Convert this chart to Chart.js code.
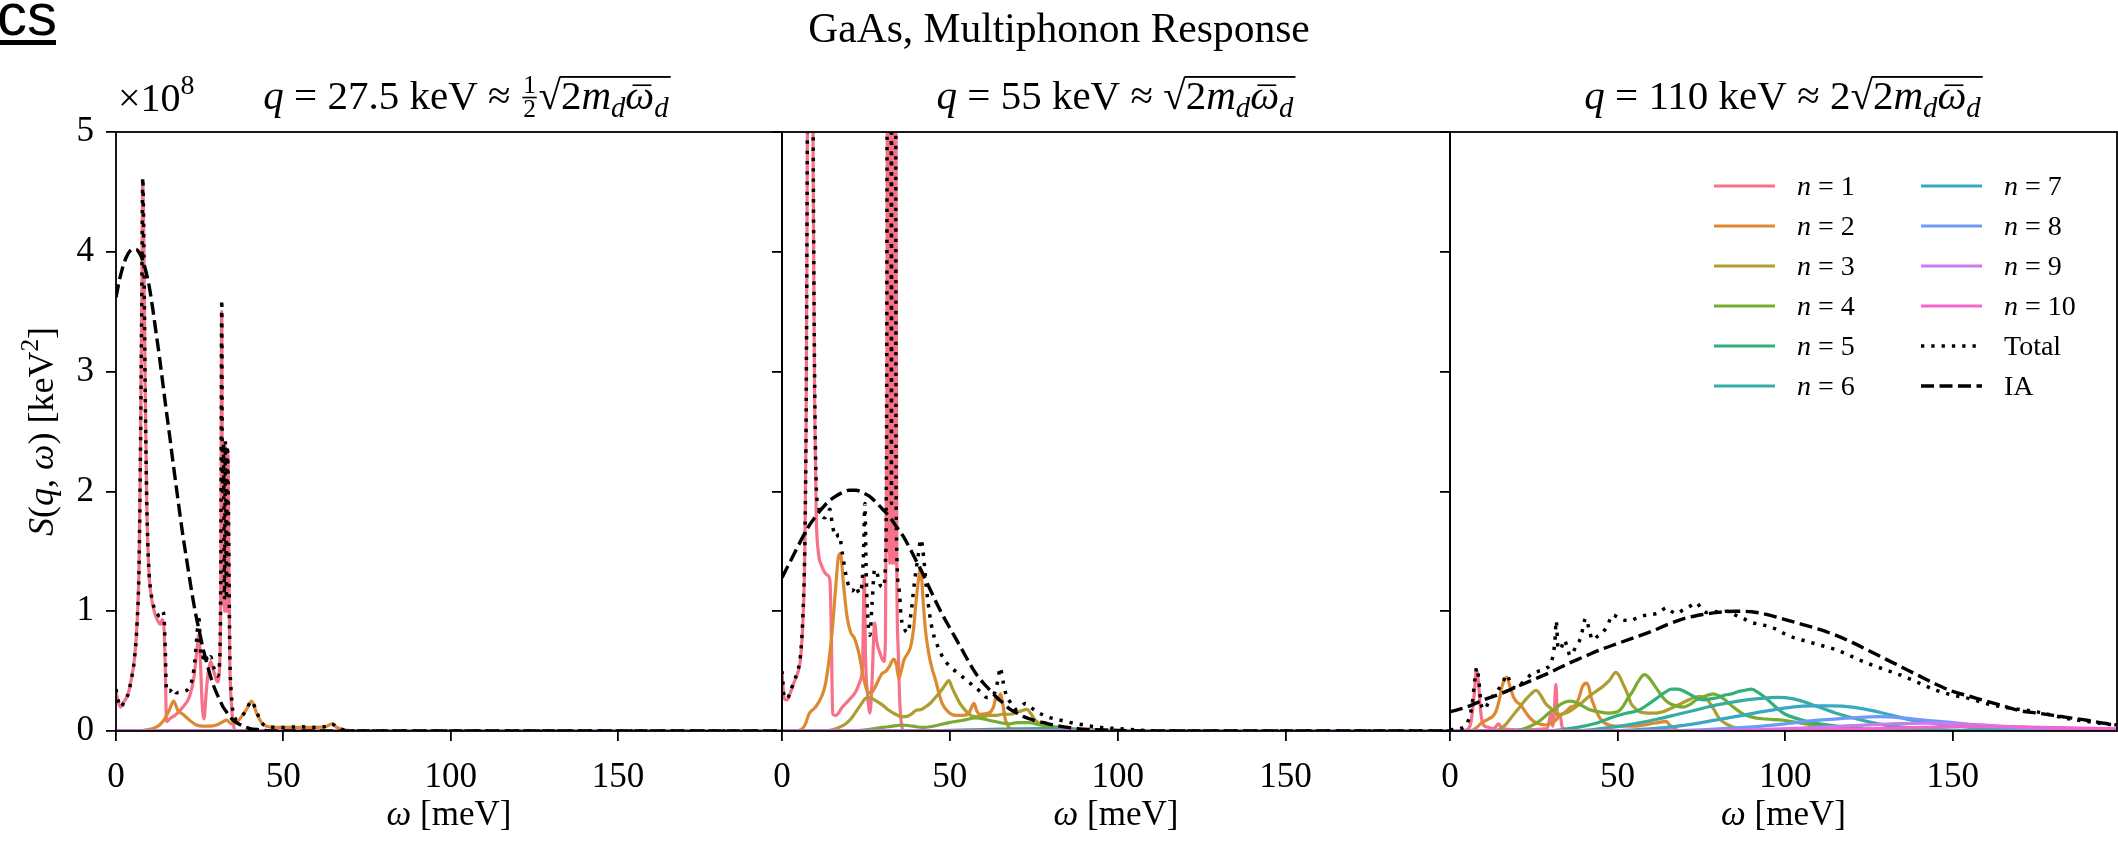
<!DOCTYPE html>
<html>
<head>
<meta charset="utf-8">
<title>GaAs, Multiphonon Response</title>
<script src="https://cdn.jsdelivr.net/npm/chart.js@4.4.1/dist/chart.umd.min.js"></script>
<style>
  html, body { margin: 0; padding: 0; background: #fff; }
  #wrap { position: relative; width: 2118px; height: 841px; overflow: hidden; }
  canvas { position: absolute; left: 0; top: 0; }
</style>
</head>
<body>
<div id="wrap">
  <canvas id="c1" width="2118" height="841"></canvas>
  <canvas id="c2" width="2118" height="841"></canvas>
  <canvas id="c3" width="2118" height="841"></canvas>
</div>
<script>
// ---- axis ticks / labels
const X_TICKS = [0, 50, 100, 150];
const Y_TICKS = [0, 1, 2, 3, 4, 5];
const X_MAX = 199;
const COLORS = ['#f77189', '#dc8932', '#ae9d31', '#77ab31', '#33b07a', '#36ada4', '#38a9c5', '#6e9bf4', '#cc7af4', '#f565cc'];
const N_VALUES = ['1', '2', '3', '4', '5', '6', '7', '8', '9', '10'];

// ---- data: [omega (meV), S (1e8 keV^2)]
const ZERO = [[0, 0], [199, 0]];

// q = 27.5 keV
const P1_N1 = [[0,0.33],[0.7,0.24],[1.4,0.2],[2.5,0.25],[3.5,0.3],[4.5,0.42],[5.5,0.6],[6.3,0.9],[6.9,1.4],[7.3,2.3],
  [7.7,3.6],[8.0,4.58],[8.3,4.1],[8.7,2.9],[9.2,1.9],[9.8,1.35],[10.5,1.13],[11.5,0.99],[12.5,0.92],[13.2,0.89],
  [13.8,0.93],[14.3,0.88],[14.7,0.55],[15.1,0.08],[16,0.1],[18,0.14],[20,0.2],[22,0.29],[23.3,0.45],[24.2,0.68],
  [24.7,0.8],[25.2,0.6],[25.7,0.25],[26.3,0.1],[26.9,0.3],[27.5,0.48],[28.3,0.58],[29.2,0.5],[30.3,0.41],[30.9,0.5],
  [31.3,1.2],[31.6,3.5],[31.8,1.9],[32.0,2.35],[32.15,1.05],[32.3,2.36],[32.45,1.0],[32.6,2.38],[32.75,1.05],[32.9,2.36],
  [33.05,1.0],[33.2,2.34],[33.35,1.1],[33.5,2.3],[33.7,1.5],[34.0,0.6],[34.5,0.22],[35.0,0.07],[35.6,0],[199,0]];
const P1_N2 = [[0,0],[7,0],[9,0.01],[11,0.02],[13,0.05],[14.5,0.1],[16,0.18],[17.2,0.25],[18.5,0.17],[20,0.14],
  [22,0.09],[24,0.05],[26,0.04],[28,0.04],[30,0.05],[31.5,0.07],[33,0.09],[34.5,0.06],[36,0.07],[37.5,0.12],
  [39,0.18],[40.5,0.25],[42,0.15],[43.5,0.07],[45,0.04],[48,0.03],[55,0.03],[60,0.03],[63,0.04],[64.5,0.06],
  [66,0.03],[68,0.01],[72,0],[199,0]];
const P1_TOT = [[0,0.35],[0.7,0.25],[1.4,0.2],[2.5,0.25],[3.5,0.3],[4.5,0.42],[5.5,0.6],[6.3,0.9],[6.9,1.4],[7.3,2.3],
  [7.7,3.6],[8.0,4.62],[8.3,4.1],[8.7,2.9],[9.2,1.9],[9.8,1.36],[10.5,1.15],[11.5,1.02],[12.5,0.97],[13.2,0.96],
  [13.8,1.0],[14.3,0.97],[14.7,0.7],[15.1,0.33],[16,0.33],[17,0.36],[18,0.32],[20,0.33],[22,0.37],[23.3,0.52],
  [24.2,0.8],[24.7,0.97],[25.2,0.72],[25.7,0.6],[26.5,0.65],[27.5,0.58],[28.3,0.62],[29.2,0.53],[30.3,0.46],[30.9,0.55],
  [31.3,1.3],[31.6,3.6],[31.8,2.0],[32.1,2.4],[32.4,1.1],[32.7,2.42],[33.0,1.1],[33.3,2.38],[33.7,1.55],[34.0,0.66],
  [34.5,0.3],[35.0,0.15],[36,0.1],[37.5,0.12],[39,0.18],[40.5,0.25],[42,0.16],[43.5,0.07],[45,0.04],[50,0.03],
  [55,0.035],[60,0.03],[63,0.04],[64.5,0.06],[66,0.03],[68,0.01],[72,0],[199,0]];
const P1_IA = [[0,3.62],[1,3.76],[2,3.87],[3,3.95],[4,4.0],[5,4.02],[6,4.02],[7,3.99],[8,3.93],[9,3.83],[10,3.7],
  [11,3.52],[12,3.32],[13,3.12],[14,2.9],[15,2.68],[16,2.47],[17,2.25],[18,2.04],[19,1.83],[20,1.63],[21,1.45],
  [22,1.27],[23,1.1],[24,0.95],[25,0.82],[26,0.69],[27,0.58],[28,0.48],[29,0.39],[30,0.32],[31,0.26],[32,0.2],
  [33,0.16],[34,0.12],[35,0.09],[36,0.07],[38,0.04],[40,0.02],[43,0.01],[47,0],[199,0]];

// q = 55 keV
const P2_N1 = [[0,0.48],[0.7,0.27],[1.5,0.26],[2.5,0.32],[3.5,0.4],[4.5,0.47],[5.5,0.6],[6.2,0.9],[6.8,1.5],[7.2,2.6],
  [7.5,4.5],[7.9,7.5],[8.4,9],[8.9,7.5],[9.3,4.6],[9.7,2.8],[10.2,1.8],[10.8,1.5],[11.8,1.38],[12.8,1.32],
  [13.6,1.3],[14.3,1.25],[14.7,0.8],[15.1,0.14],[16,0.13],[18,0.2],[20,0.26],[22,0.33],[23.3,0.42],[24,0.55],
  [24.5,1.3],[24.9,0.6],[25.5,0.3],[26.2,0.15],[26.8,0.4],[27.6,0.9],[28.2,0.75],[29.2,0.65],[30.3,0.58],[30.8,0.75],
  [31.2,2.5],[31.5,7],[31.7,1.5],[31.9,8],[32.1,1.4],[32.3,8],[32.5,1.45],[32.7,8],[32.9,1.4],[33.1,8],
  [33.3,1.45],[33.5,8],[33.7,1.4],[33.9,6],[34.2,1.4],[34.6,0.7],[35.0,0.3],[35.5,0.08],[36.2,0],[199,0]];
const P2_N2 = [[0,0],[4,0],[6,0.02],[7,0.06],[8,0.14],[10,0.2],[12,0.3],[13,0.4],[14,0.59],[15,0.85],
  [16,1.2],[16.8,1.45],[17.4,1.48],[18.4,1.2],[19.4,0.95],[20.5,0.82],[21.5,0.78],[22.9,0.65],[24.4,0.43],[25.8,0.32],
  [27,0.33],[27.8,0.37],[29,0.44],[29.8,0.48],[31,0.5],[32,0.54],[33.3,0.6],[34.1,0.55],[34.8,0.44],[35.5,0.5],
  [36.3,0.59],[37.5,0.65],[38.3,0.7],[39.2,0.85],[39.8,1.04],[40.6,1.25],[41.3,1.36],[42,1.1],[42.7,0.85],[43.7,0.65],
  [44.7,0.52],[45.7,0.43],[46.7,0.32],[47.7,0.23],[49.5,0.16],[51.7,0.13],[54,0.13],[55.7,0.15],[56.5,0.2],[57.2,0.23],
  [58,0.17],[59,0.14],[61.6,0.15],[63,0.2],[63.8,0.28],[64.4,0.26],[65.1,0.31],[65.8,0.22],[66.5,0.1],[67.6,0.03],
  [69,0.01],[71,0],[199,0]];
const P2_N3 = [[0,0],[13,0],[15,0.01],[17,0.03],[19,0.06],[20.5,0.1],[22,0.16],[23.5,0.22],[24.8,0.27],[26.3,0.28],
  [27.5,0.26],[29.8,0.22],[31.5,0.18],[33.8,0.14],[35.5,0.12],[36.8,0.12],[38.5,0.14],[39.8,0.17],[41.5,0.18],[42.7,0.2],
  [44.5,0.24],[45.7,0.28],[47.2,0.33],[48.5,0.38],[49.7,0.42],[50.7,0.36],[51.7,0.3],[53,0.23],[54.7,0.17],[56.2,0.13],
  [57.7,0.12],[60,0.12],[61.6,0.13],[64,0.13],[65.6,0.14],[68,0.14],[69.6,0.15],[71.5,0.17],[73,0.18],[74,0.15],
  [75.5,0.09],[77.5,0.05],[79.5,0.03],[82,0.01],[86,0],[199,0]];
const P2_N4 = [[0,0],[20,0],[25,0.01],[29.8,0.03],[33,0.04],[35.8,0.05],[39,0.04],[41.8,0.03],[45,0.04],[49.7,0.07],
  [54,0.09],[57.7,0.11],[61.6,0.09],[65,0.07],[67.6,0.06],[70,0.07],[73.6,0.07],[77,0.05],[79.5,0.04],[83,0.03],
  [85.5,0.02],[90,0.01],[96,0],[199,0]];
const P2_N5 = [[0,0],[40,0],[50,0.005],[60,0.012],[70,0.018],[78,0.02],[86,0.015],[95,0.008],[105,0.003],[115,0],[199,0]];
const P2_N6 = [[0,0],[50,0],[65,0.004],[80,0.008],[95,0.006],[110,0.002],[125,0],[199,0]];
const P2_TOT = [[0,0.5],[0.7,0.28],[1.5,0.27],[2.5,0.33],[3.5,0.41],[4.5,0.49],[5.5,0.63],[6.2,0.95],[6.8,1.56],[7.2,2.66],
  [7.5,4.6],[7.9,7.6],[8.4,9.1],[8.9,7.6],[9.3,4.8],[9.7,3.0],[10.2,2.05],[10.8,1.88],[11.8,1.8],[12.8,1.78],
  [13.6,1.82],[14.3,1.85],[15,1.72],[16,1.62],[17,1.64],[18,1.48],[19,1.31],[20,1.2],[21,1.17],[22,1.21],
  [23,1.15],[23.8,1.22],[24.3,1.5],[24.7,1.9],[25.1,1.3],[25.6,0.92],[26.2,0.8],[26.8,1.05],[27.6,1.35],[28.3,1.32],
  [29.2,1.22],[30.2,1.2],[30.8,1.4],[31.2,3],[31.5,9],[32.5,9],[32.6,1.9],[32.7,9],[33.8,9],[34.0,1.9],
  [34.8,1.2],[35.5,0.95],[36.5,0.85],[37.5,0.82],[38.5,1.0],[39.5,1.25],[40.5,1.45],[41.4,1.6],[42.2,1.45],[43,1.2],
  [44,0.97],[45,0.82],[46.5,0.7],[48,0.61],[50,0.54],[53,0.47],[56,0.4],[59,0.33],[61,0.28],[63,0.3],
  [64.3,0.42],[65,0.53],[65.8,0.42],[66.8,0.3],[68,0.24],[69.5,0.18],[71,0.2],[72.5,0.23],[74,0.2],[76,0.16],
  [78,0.13],[80,0.11],[83,0.09],[86,0.07],[90,0.05],[95,0.03],[100,0.02],[105,0.01],[112,0],[199,0]];
const P2_IA = [[0,1.28],[2,1.39],[4,1.5],[6,1.61],[8,1.71],[10,1.79],[12,1.86],[14,1.92],[16,1.96],[18,1.99],
  [20,2.01],[22,2.01],[24,1.99],[26,1.96],[28,1.91],[30,1.85],[32,1.79],[34,1.71],[36,1.63],[38,1.53],
  [40,1.42],[42,1.31],[44,1.19],[46,1.07],[48,0.96],[50,0.86],[52,0.76],[54,0.66],[56,0.56],[58,0.47],
  [60,0.4],[62,0.34],[64,0.28],[66,0.23],[68,0.18],[70,0.15],[72,0.12],[74,0.1],[76,0.08],[78,0.07],
  [80,0.055],[84,0.035],[88,0.02],[92,0.012],[98,0.005],[105,0.002],[115,0],[199,0]];

// q = 110 keV
const P3_N1 = [[0,0],[5,0.01],[6.3,0.08],[7.2,0.3],[7.9,0.51],[8.5,0.4],[9.2,0.15],[10,0.05],[11.5,0.03],[13,0.02],
  [14.5,0.06],[15.5,0.02],[20,0.01],[29,0.02],[30.2,0.15],[30.6,0.04],[31.1,0.15],[31.6,0.39],[32.1,0.12],[32.9,0.12],
  [33.5,0.03],[35,0.01],[37,0],[199,0]];
const P3_N2 = [[0,0],[6,0],[8,0.03],[9.5,0.07],[11.5,0.1],[13.5,0.15],[14.7,0.26],[15.5,0.37],[16.3,0.43],[17,0.45],
  [17.8,0.38],[19,0.28],[20,0.24],[21,0.22],[22.5,0.16],[23.5,0.12],[25,0.08],[26.5,0.06],[28.5,0.05],[30,0.06],
  [31.5,0.09],[32.5,0.12],[34.5,0.16],[36,0.2],[37.5,0.22],[38.5,0.28],[39.5,0.37],[40.7,0.4],[41.5,0.36],[42,0.29],
  [43,0.21],[43.5,0.17],[45.5,0.08],[47.5,0.05],[49.5,0.04],[55,0.04],[59.5,0.06],[62,0.07],[64.5,0.08],[65.5,0.05],
  [67.5,0.01],[69,0],[199,0]];
const P3_N3 = [[0,0],[12,0],[14.5,0.01],[16.5,0.05],[18.5,0.12],[20.5,0.19],[22.5,0.26],[24.2,0.31],[25.7,0.34],[27,0.3],
  [28.5,0.23],[30,0.19],[31.5,0.15],[33,0.14],[34.5,0.15],[36,0.17],[37.5,0.2],[39.5,0.24],[41.5,0.29],[43.5,0.33],
  [45.5,0.37],[47.5,0.42],[49.5,0.49],[50.5,0.46],[51.5,0.4],[52.8,0.32],[54,0.23],[55.2,0.19],[56.5,0.16],[59,0.15],
  [61.5,0.15],[63.5,0.16],[66,0.19],[69,0.23],[72,0.27],[74.5,0.29],[76.5,0.27],[78.5,0.19],[80.5,0.1],[83,0.05],
  [86,0.02],[90,0.01],[95,0],[199,0]];
const P3_N4 = [[0,0],[18,0],[21,0.01],[24,0.04],[27,0.09],[29.5,0.15],[31.5,0.19],[33.5,0.23],[35.5,0.25],[37.5,0.24],
  [39.5,0.21],[41.5,0.18],[44.5,0.16],[47.5,0.15],[50,0.16],[51.5,0.2],[53,0.27],[54.5,0.33],[56.3,0.42],[58,0.47],
  [59.5,0.44],[61.5,0.36],[63.5,0.28],[65.5,0.23],[67.5,0.21],[69.5,0.2],[71.5,0.22],[73.5,0.26],[76,0.29],[78.5,0.31],
  [80.5,0.29],[82.5,0.25],[84.5,0.2],[87,0.15],[89.5,0.12],[94,0.1],[99.5,0.09],[104,0.07],[110,0.04],[115,0.02],
  [120,0.01],[128,0],[199,0]];
const P3_N5 = [[0,0],[28,0],[33,0.01],[38,0.03],[43,0.06],[47,0.1],[50,0.13],[53,0.15],[56,0.17],[59,0.22],
  [62,0.28],[64,0.32],[66,0.35],[68,0.35],[70,0.33],[72,0.3],[74,0.27],[76,0.26],[78,0.27],[80,0.28],
  [82,0.3],[84,0.31],[86,0.33],[88,0.34],[90,0.35],[92,0.32],[94,0.28],[96,0.23],[98,0.18],[100,0.14],
  [104,0.1],[108,0.07],[113,0.05],[118,0.03],[125,0.015],[132,0.005],[140,0],[199,0]];
const P3_N6 = [[0,0],[35,0],[42,0.01],[48,0.03],[55,0.06],[62,0.1],[68,0.14],[74,0.18],[80,0.22],[86,0.25],
  [92,0.27],[98,0.28],[102,0.27],[106,0.24],[110,0.2],[115,0.15],[120,0.11],[126,0.07],[132,0.04],[140,0.02],
  [150,0.005],[160,0],[199,0]];
const P3_N7 = [[0,0],[45,0],[55,0.01],[65,0.03],[75,0.07],[85,0.12],[95,0.17],[102,0.2],[108,0.21],[114,0.21],
  [120,0.2],[126,0.17],[132,0.13],[138,0.09],[145,0.06],[152,0.04],[160,0.02],[170,0.01],[180,0],[199,0]];
const P3_N8 = [[0,0],[60,0],[75,0.01],[88,0.03],[100,0.06],[110,0.09],[120,0.11],[128,0.12],[135,0.11],[142,0.09],
  [150,0.07],[160,0.04],[170,0.02],[180,0.01],[190,0.005],[199,0]];
const P3_N9 = [[0,0],[75,0],[90,0.01],[105,0.025],[120,0.045],[132,0.06],[142,0.065],[152,0.06],[162,0.045],[172,0.03],
  [182,0.02],[192,0.01],[199,0.007]];
const P3_N10 = [[0,0],[85,0],[100,0.005],[115,0.012],[130,0.022],[145,0.032],[158,0.036],[170,0.034],[182,0.028],[192,0.022],
  [199,0.018]];
const P3_TOT = [[0,0.01],[3,0.02],[5,0.06],[6.5,0.2],[7.5,0.45],[8,0.53],[8.6,0.42],[9.3,0.22],[10.3,0.18],[11.5,0.24],
  [13,0.3],[14.5,0.35],[16,0.42],[16.8,0.47],[17.5,0.44],[18.5,0.37],[20,0.36],[21.5,0.4],[23,0.44],[24.5,0.48],
  [26.5,0.5],[28.5,0.52],[30.5,0.6],[31.3,0.75],[31.7,0.92],[32.2,0.7],[33,0.68],[34,0.76],[35,0.7],[35.8,0.63],
  [37.5,0.7],[39,0.78],[40.5,0.94],[41.5,0.85],[42.5,0.76],[44,0.79],[45.5,0.82],[47,0.88],[48.5,0.97],[50,0.95],
  [51.5,0.93],[53.5,0.92],[55.5,0.94],[57.5,0.96],[59.5,0.97],[61.5,0.98],[63,1.0],[64.5,1.03],[66,1.0],[67.5,0.98],
  [69.5,1.01],[71.5,1.04],[73.5,1.07],[75,1.02],[76.5,0.99],[78.5,1.0],[80.5,0.99],[82.5,1.0],[85,0.97],[87.5,0.94],
  [89.5,0.91],[92.5,0.89],[95.5,0.87],[98,0.84],[100.5,0.8],[105,0.76],[110,0.72],[115,0.68],[120,0.62],[125,0.56],
  [130,0.51],[135,0.46],[140,0.4],[145,0.34],[150,0.3],[155,0.27],[160,0.23],[165,0.2],[170,0.18],[175,0.16],
  [180,0.13],[185,0.1],[190,0.08],[195,0.06],[199,0.05]];
const P3_IA = [[0,0.16],[5,0.2],[10,0.26],[15,0.31],[20,0.37],[25,0.43],[30,0.49],[35,0.56],[40,0.62],[45,0.68],
  [50,0.73],[55,0.78],[60,0.83],[65,0.89],[70,0.94],[75,0.97],[80,0.99],[85,1.0],[90,0.995],[95,0.97],
  [100,0.93],[105,0.89],[110,0.85],[115,0.8],[120,0.74],[125,0.67],[130,0.6],[135,0.53],[140,0.46],[145,0.39],
  [150,0.33],[155,0.29],[160,0.25],[165,0.21],[170,0.17],[175,0.15],[180,0.13],[185,0.11],[190,0.09],[195,0.065],
  [199,0.05]];

// ---- texts
const SERIF = '"Liberation Serif", "Times New Roman", serif';
const ROOT = [{t: '2'}, {t: 'm', i: 1}, {t: 'd', i: 1, sub: 1}, {t: 'ω', i: 1, bar: 1}, {t: 'd', i: 1, sub: 1}];
const TITLE_1 = [{t: 'q', i: 1}, {t: ' = 27.5 keV ≈ '}, {frac: ['1', '2']}, {sqrt: ROOT}];
const TITLE_2 = [{t: 'q', i: 1}, {t: ' = 55 keV ≈ '}, {sqrt: ROOT}];
const TITLE_3 = [{t: 'q', i: 1}, {t: ' = 110 keV ≈ 2'}, {sqrt: ROOT}];
const X_LABEL = [{t: 'ω', i: 1}, {t: ' [meV]'}];
const Y_LABEL = [{t: 'S', i: 1}, {t: '('}, {t: 'q', i: 1}, {t: ', '}, {t: 'ω', i: 1}, {t: ') [keV'}, {t: '2', sup: 1}, {t: ']'}];
const OFFSET = [{t: '×10'}, {t: '8', sup: 1}];

function tokFont(tok, size) {
  const s = (tok.sub || tok.sup) ? size * 0.7 : size;
  return (tok.i ? 'italic ' : '') + s + 'px ' + SERIF;
}
function richWidth(ctx, toks, size) {
  let w = 0;
  for (const tok of toks) {
    if (tok.frac) {
      ctx.font = (size * 0.62) + 'px ' + SERIF;
      w += Math.max(ctx.measureText(tok.frac[0]).width, ctx.measureText(tok.frac[1]).width) + size * 0.12;
    } else if (tok.sqrt) {
      ctx.font = size + 'px ' + SERIF;
      w += ctx.measureText('√').width + richWidth(ctx, tok.sqrt, size) + size * 0.05;
    } else {
      ctx.font = tokFont(tok, size);
      w += ctx.measureText(tok.t).width;
    }
  }
  return w;
}
function richDraw(ctx, toks, x, y, size) {
  for (const tok of toks) {
    if (tok.frac) {
      const fs = size * 0.62;
      ctx.font = fs + 'px ' + SERIF;
      const fw = Math.max(ctx.measureText(tok.frac[0]).width, ctx.measureText(tok.frac[1]).width) + size * 0.12;
      ctx.textAlign = 'center';
      ctx.fillText(tok.frac[0], x + fw / 2, y - size * 0.4);
      ctx.fillText(tok.frac[1], x + fw / 2, y + size * 0.2);
      ctx.textAlign = 'left';
      ctx.fillRect(x + size * 0.04, y - size * 0.3, fw - size * 0.08, Math.max(1.2, size * 0.04));
      x += fw;
    } else if (tok.sqrt) {
      ctx.font = size + 'px ' + SERIF;
      const m = ctx.measureText('√');
      ctx.fillText('√', x, y);
      const inner = richWidth(ctx, tok.sqrt, size) + size * 0.05;
      ctx.fillRect(x + m.width - 1, y - m.actualBoundingBoxAscent, inner + 1, Math.max(1.3, size * 0.045));
      x = richDraw(ctx, tok.sqrt, x + m.width, y, size) + size * 0.05;
    } else {
      ctx.font = tokFont(tok, size);
      const dy = tok.sub ? size * 0.2 : tok.sup ? -size * 0.42 : 0;
      const w = ctx.measureText(tok.t).width;
      ctx.fillText(tok.t, x, y + dy);
      if (tok.bar) ctx.fillRect(x + w * 0.25, y - size * 0.6, w * 0.65, Math.max(1.2, size * 0.04));
      x += w;
    }
  }
  return x;
}
function richText(ctx, toks, x, y, size, align) {
  ctx.textAlign = 'left';
  ctx.textBaseline = 'alphabetic';
  ctx.fillStyle = '#000';
  const w = richWidth(ctx, toks, size);
  const x0 = align === 'center' ? x - w / 2 : align === 'right' ? x - w : x;
  richDraw(ctx, toks, x0, y, size);
}

// ---- plugins
const framePlugin = {
  id: 'frame',
  afterDatasetsDraw(chart) {
    const {ctx, chartArea: a} = chart;
    ctx.save();
    ctx.strokeStyle = '#000';
    ctx.lineWidth = 1.8;
    ctx.strokeRect(a.left, a.top, a.right - a.left, a.bottom - a.top);
    ctx.restore();
  }
};

function textPlugin(title, titleShift, first) {
  return {
    id: 'panelText',
    afterDraw(chart) {
      const {ctx, chartArea: a} = chart;
      const cx = (a.left + a.right) / 2;
      ctx.save();
      richText(ctx, title, cx + titleShift, 109, 41, 'center');
      richText(ctx, X_LABEL, cx, 825, 35, 'center');
      if (first) {
        richText(ctx, [{t: 'GaAs, Multiphonon Response'}], 1059, 42, 41.5, 'center');
        richText(ctx, OFFSET, a.left + 2, 111, 40, 'left');
        ctx.save();
        ctx.translate(53, (a.top + a.bottom) / 2);
        ctx.rotate(-Math.PI / 2);
        richText(ctx, Y_LABEL, 0, 0, 36, 'center');
        ctx.restore();
        // clipped page heading in the top-left corner
        ctx.font = '60px "Liberation Sans", Arial, sans-serif';
        ctx.textAlign = 'left';
        ctx.textBaseline = 'alphabetic';
        ctx.fillText('cs', -3, 35);
        ctx.fillRect(0, 40, 56, 5);
      }
      ctx.restore();
    }
  };
}

const legendPlugin = {
  id: 'sideLegend',
  afterDraw(chart) {
    const ctx = chart.ctx;
    const sets = chart.data.datasets;
    ctx.save();
    sets.forEach((d, i) => {
      const col = i < 6 ? 0 : 1;
      const row = i < 6 ? i : i - 6;
      const x0 = col === 0 ? 1714 : 1921;
      const y = 186 + row * 40;
      ctx.beginPath();
      ctx.strokeStyle = d.borderColor;
      ctx.lineWidth = d.borderWidth;
      ctx.setLineDash(d.borderDash || []);
      ctx.moveTo(x0, y);
      ctx.lineTo(x0 + 61, y);
      ctx.stroke();
      ctx.setLineDash([]);
      const tx = x0 + 83;
      if (i < 10) richText(ctx, [{t: 'n', i: 1}, {t: ' = ' + N_VALUES[i]}], tx, y + 9, 28, 'left');
      else richText(ctx, [{t: d.label}], tx, y + 9, 28, 'left');
    });
    ctx.restore();
  }
};

// ---- charts
Chart.defaults.font.family = SERIF;
Chart.defaults.font.size = 35;
Chart.defaults.color = '#000';
const TICK_FONT = {family: SERIF, size: 35};

function buildSets(nSeries, tot, ia) {
  const sets = nSeries.map((s, i) => ({
    label: 'n = ' + N_VALUES[i],
    data: s.map(p => ({x: p[0], y: p[1]})),
    borderColor: COLORS[i],
    borderWidth: 3.2
  }));
  sets.push({label: 'Total', data: tot.map(p => ({x: p[0], y: p[1]})), borderColor: '#000', borderWidth: 3.5, borderDash: [3.3, 7]});
  sets.push({label: 'IA', data: ia.map(p => ({x: p[0], y: p[1]})), borderColor: '#000', borderWidth: 3.4, borderDash: [13, 5.5]});
  sets.forEach((d, i) => {
    d.order = sets.length - 1 - i;
    d.pointRadius = 0;
    d.fill = false;
    d.cubicInterpolationMode = 'monotone';
    d.borderJoinStyle = 'round';
  });
  return sets;
}

function panelOptions(left, right, showY) {
  const gridOpts = {drawOnChartArea: false, drawTicks: true, tickLength: 10, color: '#000', lineWidth: 1.8};
  return {
    responsive: false,
    animation: false,
    devicePixelRatio: 1,
    layout: {padding: {left: left - 60, right: 2118 - right, top: 132, bottom: 841 - 731 - 60}},
    plugins: {legend: {display: false}, tooltip: {enabled: false}},
    scales: {
      x: {
        type: 'linear', min: 0, max: X_MAX,
        afterBuildTicks: ax => { ax.ticks = X_TICKS.map(v => ({value: v})); },
        afterFit: ax => { ax.height = 60; },
        grid: gridOpts,
        border: {display: false},
        ticks: {padding: 16, maxRotation: 0, autoSkip: false, font: TICK_FONT, color: '#000'}
      },
      y: {
        type: 'linear', min: 0, max: 5,
        afterBuildTicks: ax => { ax.ticks = Y_TICKS.map(v => ({value: v})); },
        afterFit: ax => { ax.width = 60; },
        grid: gridOpts,
        border: {display: false},
        ticks: {display: showY, padding: 12, font: TICK_FONT, color: '#000'}
      }
    }
  };
}

const PANELS = [
  {id: 'c1', left: 116, right: 782, title: TITLE_1, shift: 18, first: true,
   n: [P1_N1, P1_N2, ZERO, ZERO, ZERO, ZERO, ZERO, ZERO, ZERO, ZERO], tot: P1_TOT, ia: P1_IA},
  {id: 'c2', left: 782, right: 1450, title: TITLE_2, shift: 0, first: false,
   n: [P2_N1, P2_N2, P2_N3, P2_N4, P2_N5, P2_N6, ZERO, ZERO, ZERO, ZERO], tot: P2_TOT, ia: P2_IA},
  {id: 'c3', left: 1450, right: 2117, title: TITLE_3, shift: 0, first: false, legend: true,
   n: [P3_N1, P3_N2, P3_N3, P3_N4, P3_N5, P3_N6, P3_N7, P3_N8, P3_N9, P3_N10], tot: P3_TOT, ia: P3_IA}
];

PANELS.forEach(p => {
  const plugins = [framePlugin, textPlugin(p.title, p.shift, p.first)];
  if (p.legend) plugins.push(legendPlugin);
  new Chart(document.getElementById(p.id), {
    type: 'line',
    data: {datasets: buildSets(p.n, p.tot, p.ia)},
    options: panelOptions(p.left, p.right, p.first),
    plugins: plugins
  });
});
</script>
</body>
</html>
